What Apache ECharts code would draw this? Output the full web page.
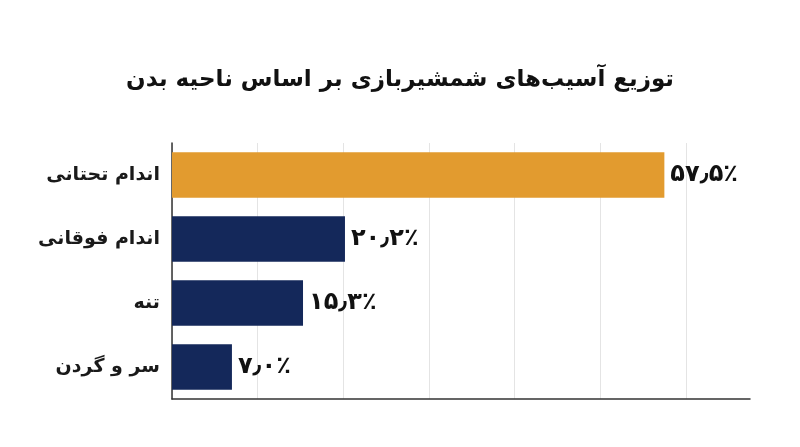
<!DOCTYPE html>
<html><head><meta charset="utf-8">
<script src="https://cdn.jsdelivr.net/npm/echarts@6/dist/echarts.min.js"></script>
<style>html,body{margin:0;padding:0;background:#fff}#c{width:800px;height:447px}</style>
</head><body><div id="c"></div>
<script>
const titleText = 'توزیع آسیب‌های شمشیربازی بر اساس ناحیه بدن';
const categories = ['سر و گردن', 'تنه', 'اندام فوقانی', 'اندام تحتانی'];
const values = [7.0, 15.3, 20.2, 57.5];
const valueLabels = ['۷٫۰٪', '۱۵٫۳٪', '۲۰٫۲٪', '۵۷٫۵٪'];
const highlightIndex = 3;
const FONT = '"DejaVu Sans", "Noto Sans", sans-serif';

const chart = echarts.init(document.getElementById('c'), null, {renderer: 'canvas'});
chart.setOption({
  backgroundColor: '#ffffff',
  animation: false,
  title: {
    text: titleText, left: 'center', top: 64,
    textStyle: {fontFamily: FONT, fontSize: 23, fontWeight: 'bold', color: '#111111'}
  },
  grid: {left: 172, right: 50, top: 143, bottom: 48, containLabel: false},
  xAxis: {
    type: 'value', min: 0, max: 67.5, interval: 10,
    axisLabel: {show: false}, axisTick: {show: false},
    axisLine: {show: true, lineStyle: {color: '#333333', width: 1.5}},
    splitLine: {show: true, showMaxLine: false, lineStyle: {color: '#e4e4e4', width: 1}}
  },
  yAxis: {
    type: 'category', data: categories,
    axisTick: {show: false},
    axisLine: {show: true, lineStyle: {color: '#333333', width: 1.5}},
    axisLabel: {fontFamily: FONT, fontSize: 19, fontWeight: 'bold', color: '#1a1a1a', margin: 12}
  },
  series: [{
    type: 'bar', barCategoryGap: '29%',
    data: values.map((v, i) => ({value: v, itemStyle: {color: i === highlightIndex ? '#E29B2F' : '#14285A'}})),
    label: {
      show: true, position: 'right', distance: 6,
      formatter: p => valueLabels[p.dataIndex],
      fontFamily: FONT, fontSize: 24, fontWeight: 'bold', color: '#111111'
    }
  }]
});
</script></body></html>
